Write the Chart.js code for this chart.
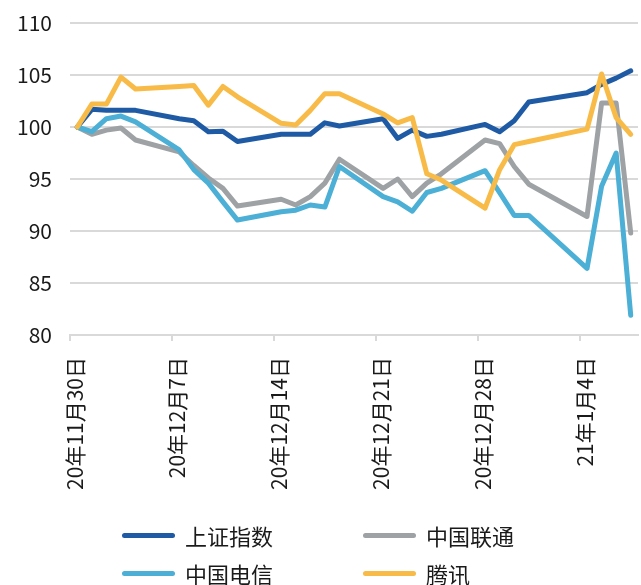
<!DOCTYPE html>
<html><head><meta charset="utf-8">
<script src="https://cdn.jsdelivr.net/npm/chart.js@4.4.0/dist/chart.umd.min.js"></script>
<style>
html,body{margin:0;padding:0;background:#fff;}
#wrap{position:relative;width:641px;height:585px;overflow:hidden;}
#legend{position:absolute;left:0;top:0;width:641px;height:585px;pointer-events:none;font-family:"Noto Sans CJK SC","Noto Sans",sans-serif;}
.item{position:absolute;display:flex;align-items:center;height:30px;font-size:22px;color:#1a1a1a;white-space:nowrap;}
.swatch{width:53px;height:5px;border-radius:3px;margin-right:10px;}
</style></head>
<body>
<div id="wrap"><canvas id="c" width="641" height="585"></canvas><div id="legend"></div></div>
<script>
// ---- data ----
const startDate = '2020-11-30';
const tradeDates = [
  '2020-11-30','2020-12-01','2020-12-02','2020-12-03','2020-12-04',
  '2020-12-07','2020-12-08','2020-12-09','2020-12-10','2020-12-11',
  '2020-12-14','2020-12-15','2020-12-16','2020-12-17','2020-12-18',
  '2020-12-21','2020-12-22','2020-12-23','2020-12-24','2020-12-25',
  '2020-12-28','2020-12-29','2020-12-30','2020-12-31',
  '2021-01-04','2021-01-05','2021-01-06','2021-01-07'
];
const endDate = '2021-01-08';
const tickDates = ['2020-11-30','2020-12-07','2020-12-14','2020-12-21','2020-12-28','2021-01-04'];
const tickLabels = ['20年11月30日','20年12月7日','20年12月14日','20年12月21日','20年12月28日','21年1月4日'];
const seriesNames = ['上证指数','中国联通','中国电信','腾讯'];
const shIndex = [100,101.7,101.6,101.6,101.6, 100.8,100.6,99.55,99.6,98.6, 99.3,99.3,99.3,100.4,100.1, 100.8,98.9,99.7,99.1,99.3, 100.25,99.55,100.6,102.4, 103.3,104.1,104.7,105.4];
const unicom  = [100,99.3,99.7,99.9,98.75, 97.6,96.3,95.1,94.1,92.4, 93.05,92.5,93.3,94.6,96.9, 94.1,95.0,93.3,94.6,95.5, 98.75,98.4,96.2,94.5, 91.4,102.3,102.3,89.8];
const telecom = [100,99.55,100.8,101.05,100.5, 97.8,95.9,94.6,92.8,91.05, 91.85,92.0,92.5,92.3,96.2, 93.3,92.8,91.9,93.7,94.1, 95.8,93.7,91.5,91.5, 86.4,94.3,97.5,81.9];
const tencent = [100,102.2,102.2,104.8,103.65, 103.9,104.0,102.1,103.9,102.9, 100.35,100.2,101.6,103.2,103.2, 101.25,100.4,100.9,95.5,94.9, 92.2,95.9,98.3,98.6, 99.8,105.1,100.9,99.3];
const yMin = 80, yMax = 110, yStep = 5;

// ---- styles ----
const colors = ['#1f5ba5','#9ea2a5','#4bafd6','#f8bb47'];
const FONT = '"Noto Sans CJK SC","Noto Sans",sans-serif';
const textColor = '#1a1a1a';
const gridColor = '#d9d9d9';

const dayMs = 86400000;
const dayOf = d => Math.round((Date.parse(d + 'T00:00:00Z') - Date.parse(startDate + 'T00:00:00Z')) / dayMs);
// Points sit in the middle of their day slot (date axis, between tick marks)
const toPoints = vals => vals.map((v, i) => ({ x: dayOf(tradeDates[i]) + 0.5, y: v }));
const allSeries = [shIndex, unicom, telecom, tencent];

const datasets = allSeries.map((vals, i) => ({
  label: seriesNames[i],
  data: toPoints(vals),
  borderColor: colors[i],
  backgroundColor: colors[i],
  borderWidth: 5,
  pointRadius: 0,
  tension: 0,
  fill: false,
  borderJoinStyle: 'round',
  borderCapStyle: 'round',
  order: allSeries.length - i
}));

const chart = new Chart(document.getElementById('c'), {
  type: 'line',
  data: { datasets },
  options: {
    responsive: false,
    animation: false,
    devicePixelRatio: 1,
    layout: { padding: { left: 0, right: 3, top: 23, bottom: 95 } },
    plugins: { legend: { display: false }, tooltip: { enabled: false } },
    scales: {
      x: {
        type: 'linear',
        min: 0,
        max: dayOf(endDate),
        afterBuildTicks: s => { s.ticks = tickDates.map(d => ({ value: dayOf(d) })); },
        afterFit: s => { s.height = 155; },
        ticks: {
          autoSkip: false, minRotation: 90, maxRotation: 90,
          padding: 16, labelOffset: 5,
          color: textColor, font: { family: FONT, size: 21 },
          callback: (v, idx) => tickLabels[idx]
        },
        grid: { drawOnChartArea: false, drawTicks: true, tickLength: 6, color: gridColor, lineWidth: 2 },
        border: { display: true, color: gridColor, width: 2 }
      },
      y: {
        min: yMin, max: yMax,
        afterFit: s => { s.width = 70; s.paddingTop = 0; s.paddingBottom = 0; },
        ticks: { stepSize: yStep, padding: 18, color: textColor, font: { family: FONT, size: 21 } },
        grid: { color: gridColor, lineWidth: 2, drawTicks: false },
        border: { display: false }
      }
    }
  }
});

// ---- legend (two columns, built from the chart's datasets) ----
const legendCols = [122, 363];
const legendRows = [535, 573];
const lg = document.getElementById('legend');
chart.data.datasets.forEach((ds, i) => {
  const el = document.createElement('div');
  el.className = 'item';
  el.style.left = legendCols[i % 2] + 'px';
  el.style.top = (legendRows[Math.floor(i / 2)] - 15) + 'px';
  const sw = document.createElement('span');
  sw.className = 'swatch';
  sw.style.background = ds.borderColor;
  const tx = document.createElement('span');
  tx.textContent = ds.label;
  el.appendChild(sw); el.appendChild(tx);
  lg.appendChild(el);
});
</script>
</body></html>
